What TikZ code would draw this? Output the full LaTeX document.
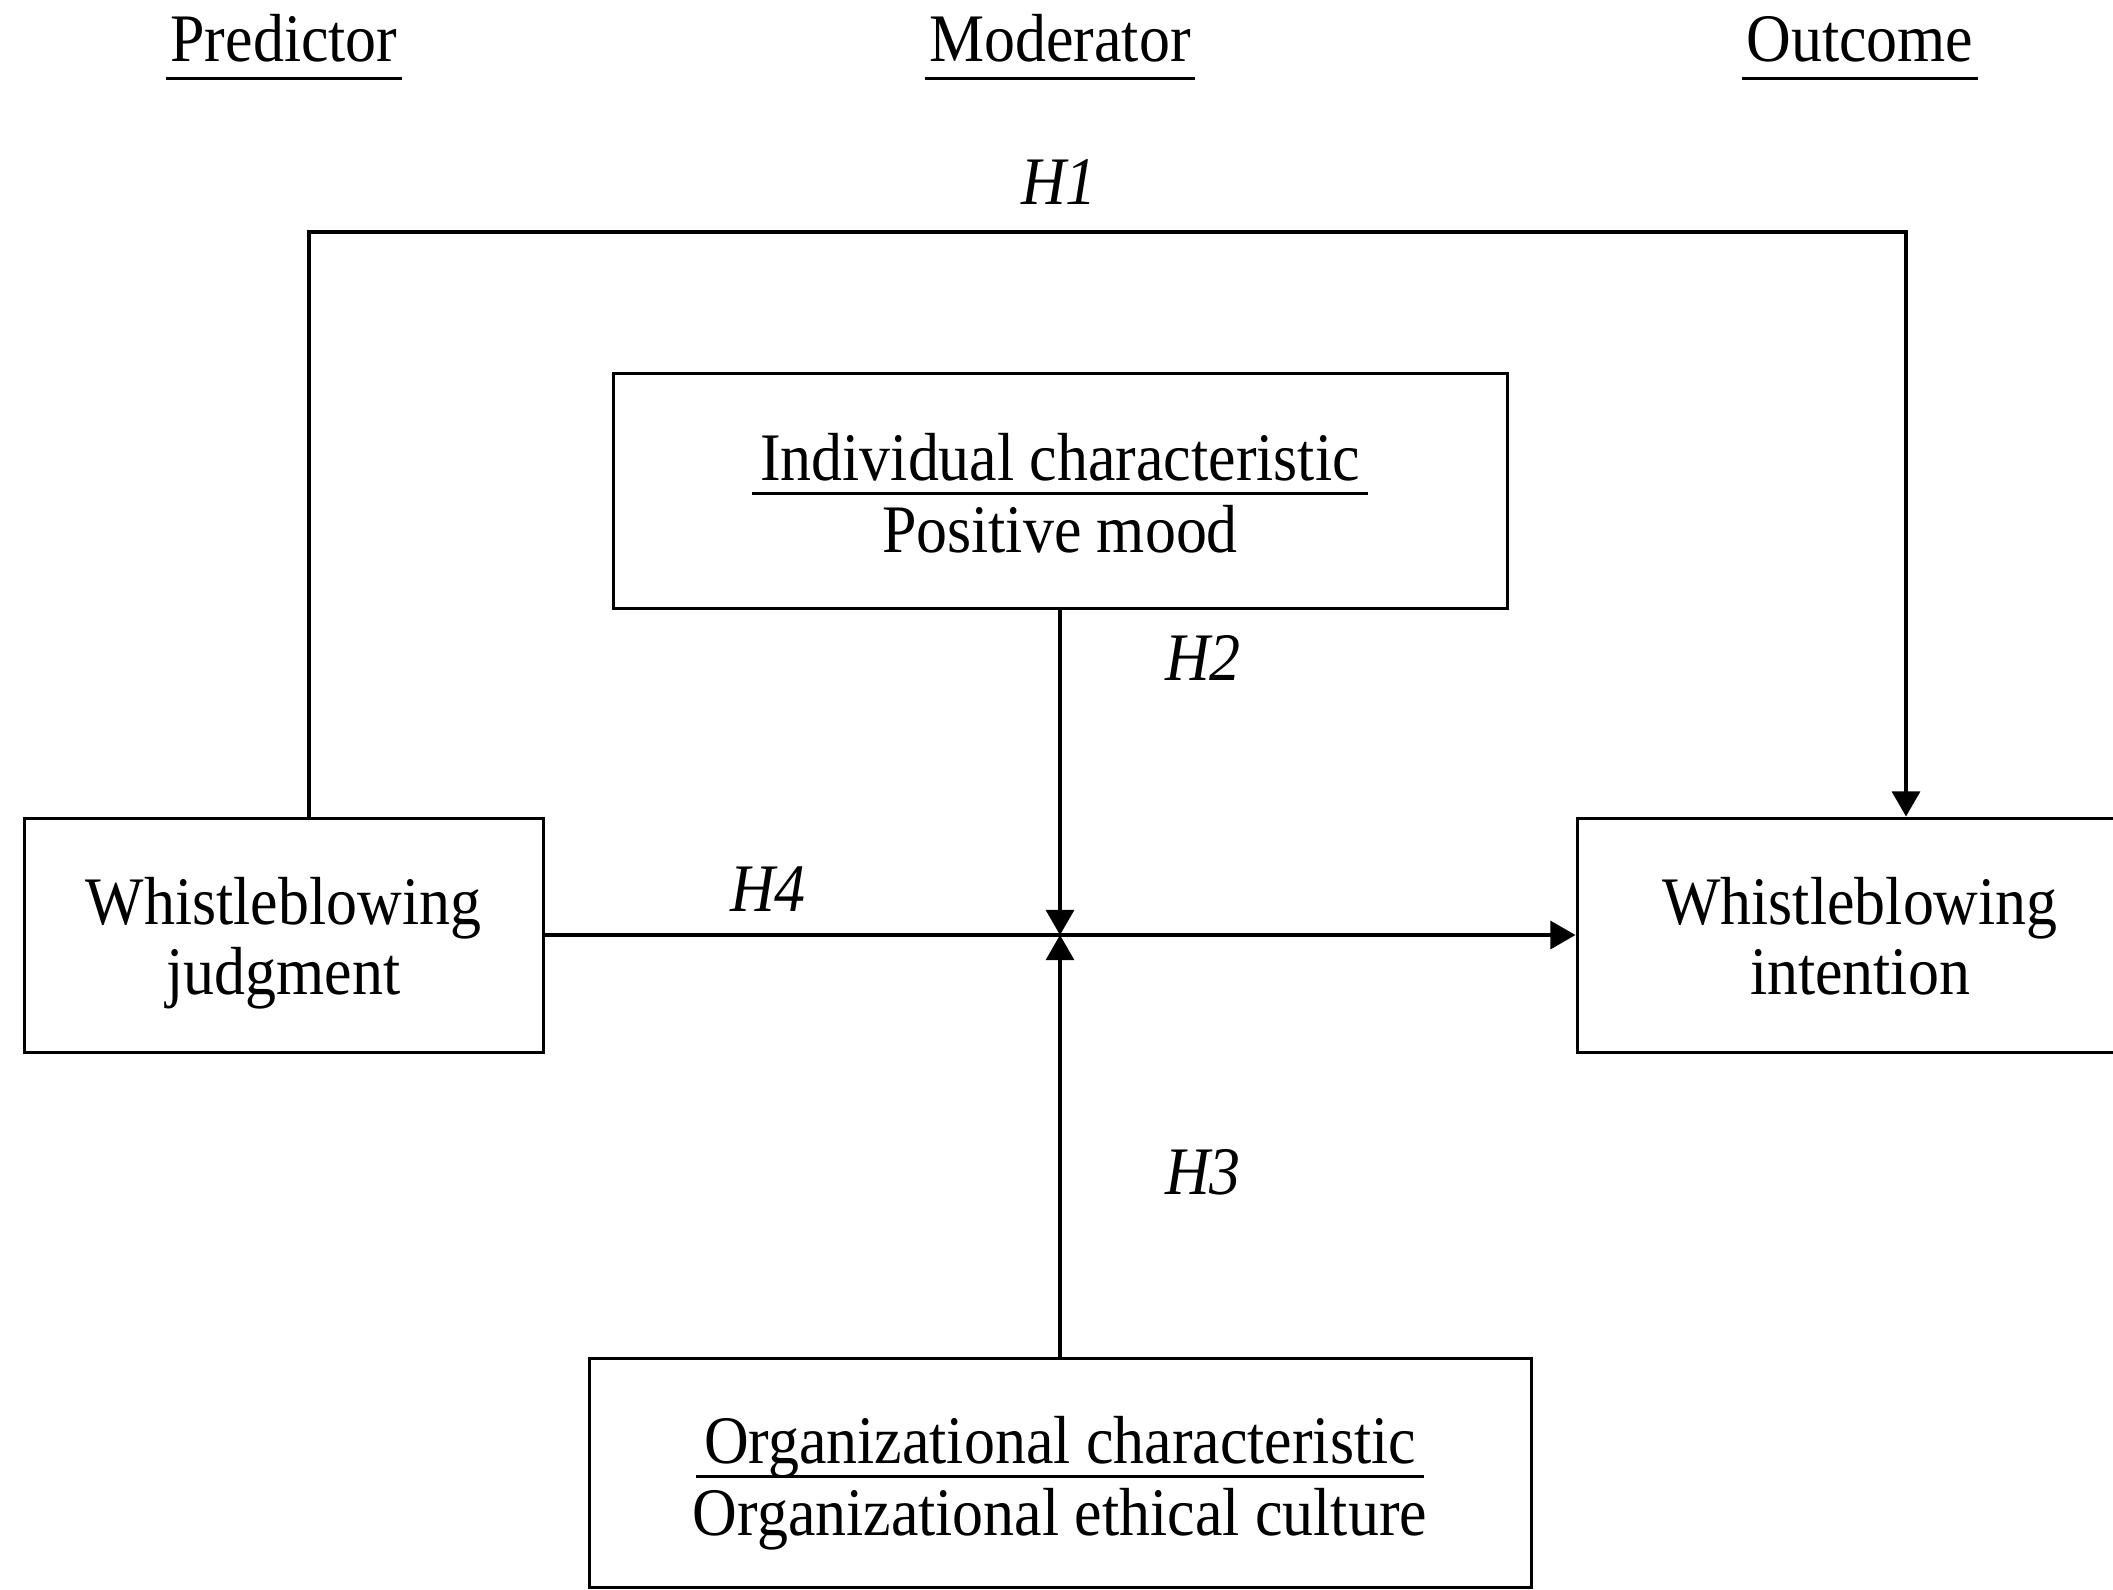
\documentclass[tikz,border=0pt]{standalone}
\usepackage{fontspec}
\setmainfont{Liberation Serif}[FakeStretch=0.91]
\usetikzlibrary{arrows.meta}
\newlength\myuld
\newcommand\ulbox[1]{\setbox0\hbox{#1}\myuld=\dp0 \ifdim\myuld<2.8pt \myuld=2.8pt\fi
  \leavevmode\rlap{\kern-2pt\raisebox{-\dimexpr\myuld+0.8pt\relax}{\rule{\dimexpr\wd0+4pt\relax}{0.8pt}}}\box0}
\newcommand\modlabel[3]{\raisebox{#1}[\height][\depth]{\renewcommand\arraystretch{0.5}\begin{tabular}{@{}c@{}}\ulbox{#2}\\\rule{0pt}{14.3pt}#3\end{tabular}}}
\newcommand\twolines[2]{\raisebox{-2.6pt}[\height][\depth]{\renewcommand\arraystretch{0.946}\begin{tabular}{@{}c@{}}#1\\#2\end{tabular}}}
\begin{document}
\begin{tikzpicture}[x=0.25pt,y=-0.25pt,
  font=\fontsize{17}{18.5}\selectfont,
  box/.style={draw, line width=0.75pt, rectangle, inner sep=0pt, align=center},
  conn/.style={line width=0.9pt},
  arr/.style={conn, -{Triangle[length=6.3pt,width=7pt]}},
  hyp/.style={font=\fontsize{17}{18.5}\selectfont\itshape, inner sep=0pt},
  head/.style={inner xsep=1pt, inner ysep=0pt, anchor=base},
  uline/.style={line width=0.7pt}]
\clip (0,0) rectangle (2113,1589);
% headers
\node[head] (pred) at (284,61) {Predictor};
\node[head] (moder) at (1060,61) {Moderator};
\node[head] (outc) at (1860,61) {Outcome};
\foreach \n in {pred,moder,outc}{
  \draw[uline] ([yshift=-4.4pt]\n.base west) -- ([yshift=-4.4pt]\n.base east);
}
% boxes
\node[box, minimum width=129.75pt, minimum height=58.5pt] (judg) at (283.5,935) {\twolines{Whistleblowing}{judgment}};
\node[box, minimum width=141.5pt, minimum height=58.5pt] (intent) at (1860,935) {\twolines{Whistleblowing}{intention}};
\node[box, minimum width=223.5pt, minimum height=58.75pt] (indiv) at (1060,490.5) {\modlabel{-2pt}{Individual characteristic}{Positive mood}};
\node[box, minimum width=235.5pt, minimum height=57.25pt] (org) at (1060,1472.5) {\modlabel{-2.7pt}{Organizational characteristic}{Organizational ethical culture}};
% connectors
\coordinate (cross) at (1060,935);
\coordinate (h1l) at (309,232);
\coordinate (h1r) at (1906,232);
\draw[arr] (judg.north -| h1l) -- (h1l) -- (h1r) -- (intent.north -| h1r);
\draw[arr] (judg.east) -- (intent.west);
\draw[arr] (indiv.south) -- (cross);
\draw[arr] (org.north) -- (cross);
% labels
\node[hyp] (h1) at (1059,182) {H1};
\node[hyp] (h2) at (1203,658) {H2};
\node[hyp] (h3) at (1203,1172) {H3};
\node[hyp] (h4) at (768,889) {H4};
\end{tikzpicture}
\end{document}
